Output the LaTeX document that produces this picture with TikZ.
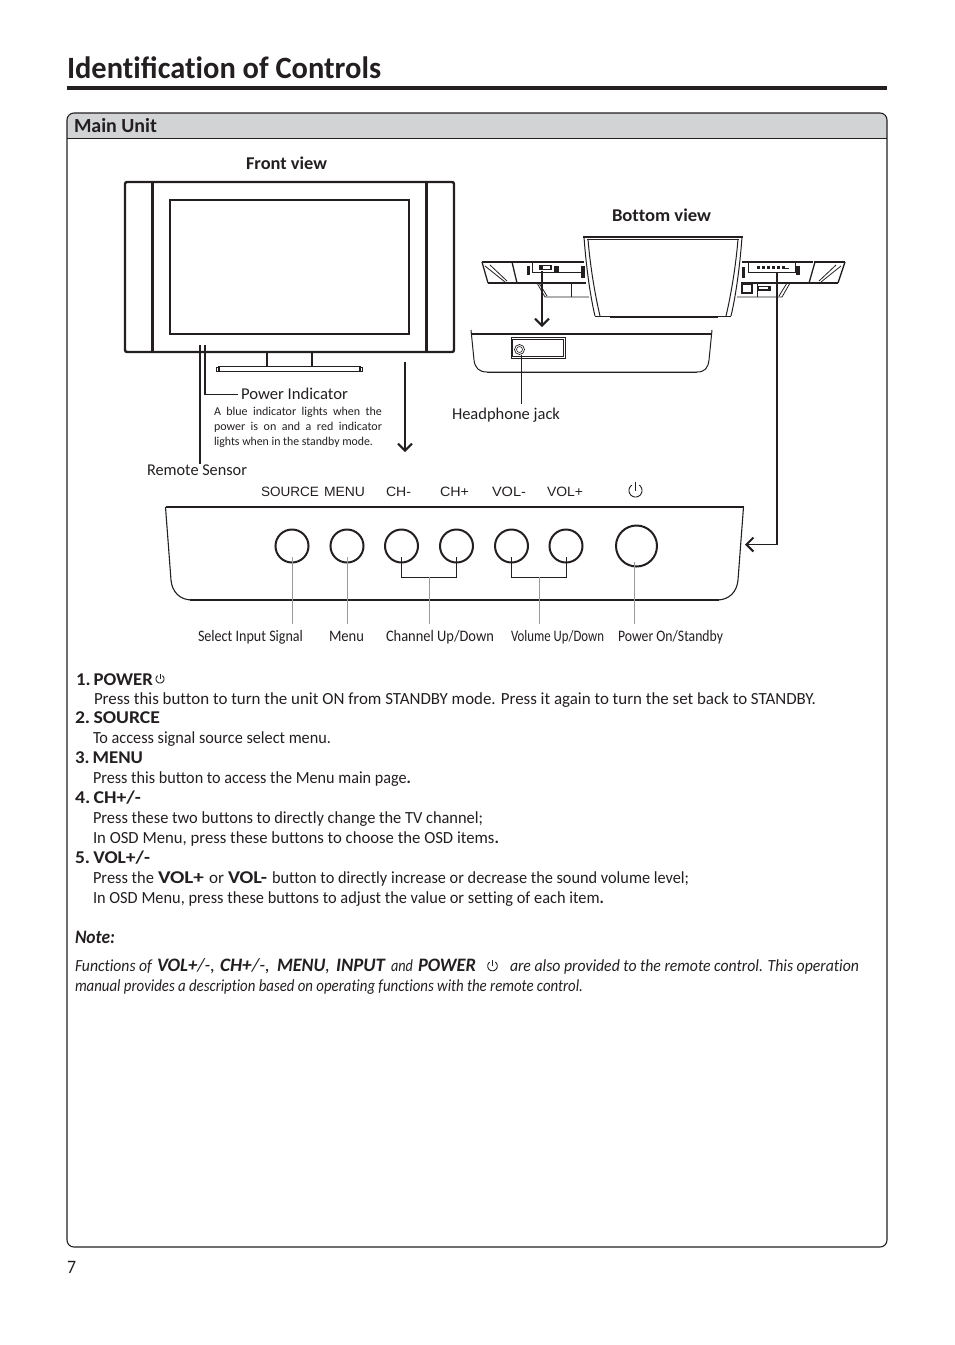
\documentclass[tikz,border=0pt]{standalone}
\usepackage{graphicx}
\usepackage{fontspec}
\setmainfont[Ligatures=NoCommon]{Carlito}
\newfontfamily\arialf{Liberation Sans}
\usetikzlibrary{arrows.meta,shapes.geometric,calc}
\definecolor{ink}{HTML}{231F20}
\definecolor{headfill}{HTML}{D1D3D4}
\definecolor{leadgray}{HTML}{9A9A9A}
\newcommand\fitx[2]{\resizebox{#1pt}{\height}{#2}}
\newcommand\fsz[1]{\fontsize{#1}{#1}\selectfont}
\tikzset{
  txt/.style={anchor=base west,inner sep=0pt,outer sep=0pt,text=ink,font=\fsz{17}},
  small/.style={txt,font=\fsz{12}},
  lab/.style={txt,font=\fsz{16.5}},
  thead/.style={txt,font=\bfseries\fsz{18}},
  ital/.style={txt,font=\itshape\fsz{17}},
  ibold/.style={txt,font=\bfseries\itshape\fsz{19}},
  keylab/.style={txt,font=\arialf\fsz{13.5}},
  fine/.style={draw=ink,line width=0.8pt},
  mid/.style={draw=ink,line width=1.3pt},
  heavy/.style={draw=ink,line width=2.4pt},
  conn/.style={draw=ink,line width=1.8pt,-{Straight Barb[length=7pt,width=14pt,line width=2pt]}},
  leader/.style={draw=leadgray,line width=0.9pt},
  bracket/.style={draw=ink,line width=0.7pt},
  btn/.style={shape=circle,draw=ink,line width=2pt,inner sep=0pt,outer sep=0pt,minimum size=33pt},
  bigbtn/.style={btn,minimum size=41pt},
  pwrsym/.pic={
    \draw[draw=ink,line width=0.9pt] plot[domain=-55:235,samples=30] ({cos(\x)},{sin(\x)});
    \draw[draw=ink,line width=0.9pt] (0,-1.35) -- (0,0.1);
  }
}
\begin{document}
\begin{tikzpicture}[x=1pt,y=-1pt,line join=miter]
\useasboundingbox (0,0) rectangle (954,1345);
% Title
\node[txt,font=\bfseries\fsz{31}] (title) at (67,78) {\fitx{314}{Identi^^^^fb01cation of Controls}};
\draw[draw=ink,line width=4pt] (67,88) -- (887,88);
% Frame
\draw[fill=headfill,draw=none,rounded corners=7pt] (67,138) -- (67,113) -- (887,113) -- (887,138) -- cycle;
\fill[headfill] (67,128) rectangle (887,138);
\draw[fine,line width=1.1pt,rounded corners=7pt] (67,113) rectangle (887,1247);
\draw[fine,line width=1.1pt] (67,138.5) -- (887,138.5);
\node[txt,font=\bfseries\fsz{20}] (mainunit) at (74,132) {\fitx{83}{Main Unit}};
\node[txt,font=\fsz{19}] (pageno) at (67,1273) {\fitx{9}{7}};
% Front view
\node[txt,font=\bfseries\fsz{18}] (frontview) at (246,169) {\fitx{81}{Front view}};
\draw[heavy,rounded corners=2pt] (125,182) rectangle (454,352);
\draw[draw=ink,line width=3pt] (152,182) -- (152,352) (426,182) -- (426,352);
\draw[mid] (170,200) rectangle (409,334);
\draw[heavy,line width=1.8pt] (267,352) -- (267,367) (312,352) -- (312,367);
\draw[fine] (216.5,367.5) rectangle (362.5,371);
\draw[mid,line width=1.1pt,fill=white] (219,366.5) rectangle (360,371.5);
\coordinate (rs) at (200,345);
\coordinate (pi) at (205,345);
\node[lab] (pilabel) at (241,399) {\fitx{107}{Power Indicator}};
\node[small] (d1) at (214,415) {\makebox[168pt][s]{A blue indicator lights when the}};
\node[small] (d2) at (214,430) {\makebox[168pt][s]{power is on and a red indicator}};
\node[small] (d3) at (214,445) {\fitx{159}{lights when in the standby mode.}};
\node[lab] (rslabel) at (147,475) {\fitx{100}{Remote Sensor}};
\draw[draw=ink,line width=1.4pt] (rs) -- (rs |- rslabel.north);
\draw[draw=ink,line width=1.3pt] (pi) |- ([xshift=-3pt,yshift=-1pt]pilabel.west);
\coordinate (fa) at (405,362);
\coordinate (fb) at (405,452);
\draw[conn] (fa) -- (fb);
% Bottom view
\node[txt,font=\bfseries\fsz{18}] (bottomview) at (612,221) {\fitx{99}{Bottom view}};
% centre body
\draw[mid,fill=white] (583,237) -- (743,237);
\draw[fine,line width=1pt] (584,237) .. controls (586,265) and (590,295) .. (595,316);
\draw[fine,line width=1pt] (588,239) .. controls (590,265) and (595,295) .. (600,316);
\draw[fine,line width=1pt] (742,237) .. controls (740,265) and (736,295) .. (731,316);
\draw[fine,line width=1pt] (738,239) .. controls (736,265) and (731,295) .. (726,316);
\draw[fine,line width=1pt] (587,239.5) -- (739,239.5);
\draw[fine,line width=1pt] (595,316) -- (731,316);
\draw[fine,line width=1.2pt] (610,317) -- (718,317);
% left wing
\draw[draw=ink,line width=2.6pt] (482,262) -- (512,262);
\draw[draw=ink,line width=1.8pt] (512,262) -- (584,262);
\draw[mid] (488,283) -- (586,283);
\draw[mid] (482,262) -- (488,283);
\draw[mid] (512,262) -- (517,283);
\draw[fine] (485,266) -- (505,282) (490,265) -- (507,281);
\fill[ink] (527,266) rectangle (530,275);
\draw[fine] (532,272) -- (582,272) (532,262) -- (532,272);
\fill[ink] (539,264.5) rectangle (552,270);
\fill[white] (543,266) rectangle (550,269);
\fill[ink] (554,266) rectangle (559,272);
\fill[ink] (581,266) rectangle (585,278);
\draw[fine] (537,283) -- (545,297) -- (589,297) (539,283) -- (547,296);
\draw[fine] (571,283) -- (571,297);
% right wing
\draw[draw=ink,line width=1.8pt] (742,262) -- (813,262);
\draw[draw=ink,line width=2.6pt] (748,262) -- (796,262) (814,262) -- (845,262);
\draw[mid] (741,283) -- (838,283);
\draw[mid] (845,262) -- (838,283);
\draw[mid] (815,262) -- (809,283);
\draw[fine] (841,266) -- (821,282) (836,265) -- (819,281);
\draw[fine] (748,262) -- (748,272) -- (795,272) -- (795,262);
\foreach \dx in {757,762,767,772,777,782}{\fill[ink] (\dx,266) rectangle ++(3,2.5);}
\draw[fine] (785,268) -- (789,268);
\fill[ink] (796,266) rectangle (800,275);
\fill[ink] (742,267) rectangle (745,278);
\draw[mid] (742,284.5) rectangle (752,293);
\fill[ink] (757,286) rectangle (771,290.5);
\fill[white] (759,287) rectangle (768,288.5);
\draw[fine] (790,283) -- (782,297) -- (737,297) (787,283) -- (779,296);
\draw[fine] (757,283) -- (757,297);
% headphone panel
\draw[mid] (472,334) -- (712,334);
\draw[fine,line width=1pt] (471,330) -- (474,360) .. controls (475,368) and (479,372) .. (487,372) -- (697,372) .. controls (705,372) and (708,368) .. (709,360) -- (712,330);
\draw[draw=ink,line width=1.4pt] (487,372.3) -- (697,372.3);
\draw[fine] (511,337.5) rectangle (565,358);
\draw[fine,line width=0.5pt] (512.5,339) rectangle (563.5,356.5);
\node[draw=ink,line width=0.7pt,shape=circle,inner sep=0pt,minimum size=10pt] (jack) at (519.5,349.5) {};
\node[draw=ink,line width=0.6pt,shape=circle,inner sep=0pt,minimum size=6pt] (jackin) at (519.5,349.5) {};
\node[lab] (hplabel) at (452,419) {\fitx{108}{Headphone jack}};
\draw[draw=ink,line width=0.7pt] (jack.south -| 521,0) -- (521,404);
\coordinate (la) at (542,271);
\coordinate (lb) at (542,327);
\draw[conn] (la) -- (lb);
\coordinate (ra) at (777,272);
\coordinate (rc) at (777,544.5);
\coordinate (rb) at (745,544.5);
\draw[conn] (ra) -- (rc) -- (rb);
% control panel
\draw[mid,line width=1.2pt] (165.5,507) -- (743.5,507);
\draw[mid,line width=1.1pt] (165.5,507) -- (171,580) .. controls (172,592) and (180,600) .. (192,600) (743.5,507) -- (738,580) .. controls (737,592) and (729,600) .. (717,600);
\draw[draw=ink,line width=2.6pt] (190,600) -- (719,600);
\node[keylab] (ksource) at (261,496) {\fitx{58}{SOURCE}};
\node[keylab] (kmenu) at (324,496) {\fitx{41}{MENU}};
\node[keylab] (kchm) at (386,496) {\fitx{25}{CH-}};
\node[keylab] (kchp) at (440,496) {\fitx{29}{CH+}};
\node[keylab] (kvolm) at (492,496) {\fitx{34}{VOL-}};
\node[keylab] (kvolp) at (547,496) {\fitx{36}{VOL+}};
\pic[scale=6.5] at (635.5,490.5) {pwrsym};
\node[btn] (b1) at (292,546) {};
\node[btn] (b2) at (347,546) {};
\node[btn] (b3) at (401.5,546) {};
\node[btn] (b4) at (456.5,546) {};
\node[btn] (b5) at (511.5,546) {};
\node[btn] (b6) at (566,546) {};
\node[bigbtn] (b7) at (636.5,546) {};
\node[txt,font=\fsz{16}] (l1) at (198,641) {\fitx{105}{Select Input Signal}};
\node[txt,font=\fsz{16}] (l2) at (329,641) {\fitx{35}{Menu}};
\node[txt,font=\fsz{16}] (l3) at (386,641) {\fitx{108}{Channel Up/Down}};
\node[txt,font=\fsz{16}] (l4) at (511,641) {\fitx{93}{Volume Up/Down}};
\node[txt,font=\fsz{16}] (l5) at (618,641) {\fitx{105}{Power On/Standby}};
\draw[leader] ($(b1)+(0,11)$) -- (292,623.5);
\draw[leader] ($(b2)+(0,11)$) -- (347,623.5);
\draw[bracket] ($(b3)+(0,11)$) |- (429,577) -| ($(b4)+(0,11)$);
\draw[bracket] ($(b5)+(0,11)$) |- (539,577) -| ($(b6)+(0,11)$);
\draw[leader] (429,577) -- (429,623.5);
\draw[leader] (539,577) -- (539,623.5);
\draw[leader] ($(b7)+(-2,16)$) -- (634.5,623.5);
% body text
\node[thead] (t1) at (76,685) {\fitx{77}{1.\,POWER}};
\pic[scale=4] at (160,679) {pwrsym};
\node[txt] (t1a) at (94,704) {\fitx{722}{Press this button to turn the unit ON from STANDBY mode. Press it again to turn the set back to STANDBY.}};
\node[thead] (t2) at (75,723) {\fitx{85}{2.\,SOURCE}};
\node[txt] (t2a) at (93,743) {\fitx{238}{To access signal source select menu.}};
\node[thead] (t3) at (75,763) {\fitx{68}{3.\,MENU}};
\node[txt] (t3a) at (93,783) {\fitx{318}{Press this button to access the Menu main page\textbf{.}}};
\node[thead] (t4) at (75,803) {\fitx{66}{4.\,CH+/-}};
\node[txt] (t4a) at (93,823) {\fitx{390}{Press these two buttons to directly change the TV channel;}};
\node[txt] (t4b) at (93,843) {\fitx{406}{In OSD Menu, press these buttons to choose the OSD items\textbf{.}}};
\node[thead] (t5) at (75,863) {\fitx{75}{5.\,VOL+/-}};
\node[txt] (t5a) at (93,883) {\fitx{61}{Press the}};
\node[thead] (t5k1) at (158,883) {\fitx{46}{VOL+}};
\node[txt] (t5c) at (209,883) {\fitx{15}{or}};
\node[thead] (t5k2) at (228,883) {\fitx{39}{VOL-}};
\node[txt] (t5d) at (272,883) {\fitx{417}{button to directly increase or decrease the sound volume level;}};
\node[txt] (t5b) at (93,903) {\fitx{511}{In OSD Menu, press these buttons to adjust the value or setting of each item\textbf{.}}};
\node[ibold] (note) at (75,943) {\fitx{40}{Note:}};
\node[ital] (n0) at (75,971) {\fitx{77}{Functions of}};
\node[ibold] (n1) at (157,971) {\fitx{58}{VOL+\textmd{/-,}}};
\node[ibold] (n3) at (220,971) {\fitx{50}{CH+\textmd{/-,}}};
\node[ibold] (n4) at (277,971) {\fitx{53}{MENU\textmd{,}}};
\node[ibold] (n5) at (336,971) {\fitx{49}{INPUT}};
\node[ital] (n6) at (391,971) {\fitx{22}{and}};
\node[ibold] (n7) at (418,971) {\fitx{58}{POWER}};
\pic[scale=4.8] at (492.5,966) {pwrsym};
\node[ital] (n1b) at (510,971) {\fitx{349}{are also provided to the remote control. This operation}};
\node[ital] (n2) at (75,991) {\fitx{508}{manual provides a description based on operating functions with the remote control.}};
\end{tikzpicture}
\end{document}
